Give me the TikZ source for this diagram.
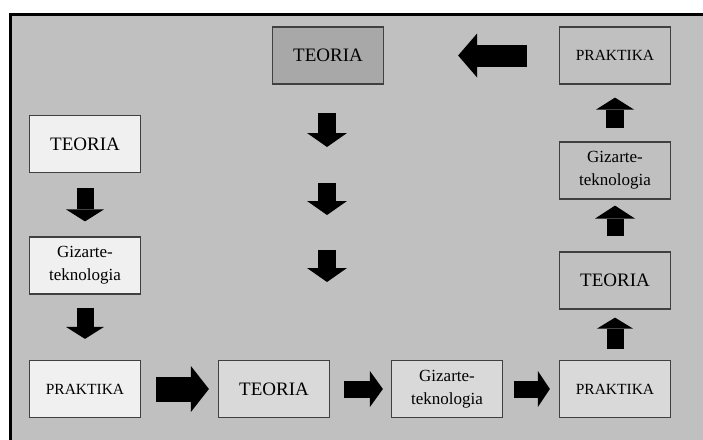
\documentclass[tikz,border=0pt]{standalone}
\usepackage{fontspec}
\setmainfont{Liberation Serif}
\usepackage{tikz}
\usetikzlibrary{arrows.meta}
\definecolor{panel}{HTML}{C0C0C0}
\definecolor{pale}{HTML}{F0F0F0}
\definecolor{mid}{HTML}{D9D9D9}
\definecolor{dark}{HTML}{A8A8A8}
\tikzset{
  box/.style={draw=black!75, line width=1.2pt, minimum width=111pt, minimum height=57pt, inner sep=0pt, align=center},
  big/.style={font=\fontsize{19}{22}\selectfont},
  small/.style={font=\fontsize{15.5}{19}\selectfont},
  two/.style={font=\fontsize{17}{23}\selectfont},
  blk/.style n args={3}{line width=#1, -{Triangle[length=#2, width=#3, line width=0pt]}}
}

\begin{document}
\begin{tikzpicture}[x=1pt, y=-1pt]
\path[use as bounding box] (0,0) rectangle (703,439);
\fill[panel] (10,14) rectangle (706,442);
\draw[line width=3pt] (10,442) -- (10,14) -- (706,14);

% left column
\node[box, big, fill=pale] (t1) at (85,144) {TEORIA};
\node[box, two, fill=pale] (g1) at (85,265.5) {Gizarte-\\teknologia};
\node[box, small, fill=pale] (p1) at (85,389) {PRAKTIKA};

% bottom row
\node[box, big, fill=mid] (t2) at (274,389) {TEORIA};
\node[box, two, fill=mid] (g2) at (447,389) {Gizarte-\\teknologia};
\node[box, small, fill=mid] (p2) at (615,389) {PRAKTIKA};

% right column
\node[box, big, fill=panel] (t3) at (615,280.5) {TEORIA};
\node[box, two, fill=panel] (g3) at (615,170.5) {Gizarte-\\teknologia};
\node[box, small, fill=panel] (p3) at (615,55.5) {PRAKTIKA};

% top
\node[box, big, fill=dark] (t4) at (328,55.5) {TEORIA};

\draw[blk={17pt}{12pt}{38pt}, shorten <=15pt, shorten >=15pt] (t1.south) -- (g1.north);
\draw[blk={17pt}{12pt}{38pt}, shorten <=13pt, shorten >=21pt] (g1.south) -- (p1.north);
\draw[blk={25pt}{18pt}{46pt}, shorten <=15pt, shorten >=9pt] (p1.east) -- (t2.west);
\draw[blk={17pt}{13pt}{36pt}, shorten <=14pt, shorten >=8pt] (t2.east) -- (g2.west);
\draw[blk={17pt}{12pt}{36pt}, shorten <=11pt, shorten >=9pt] (g2.east) -- (p2.west);
\draw[blk={17pt}{11pt}{36pt}, shorten <=10.5pt, shorten >=8pt] (p2.north) -- (t3.south);
\draw[blk={17pt}{13pt}{40pt}, shorten <=15pt, shorten >=6pt] (t3.north) -- (g3.south);
\draw[blk={18pt}{12pt}{38pt}, shorten <=13pt, shorten >=13pt] (g3.north) -- (p3.south);
\draw[blk={22pt}{19pt}{44pt}, shorten <=31.5pt, shorten >=74pt] (p3.west) -- (t4.east);

% middle column
\foreach \i/\a/\b in {1/113/147, 2/183/215, 3/250/282} {
  \coordinate (ma\i) at (327,\a);
  \coordinate (mb\i) at (327,\b);
  \draw[blk={18pt}{14pt}{40pt}] (ma\i) -- (mb\i);
}
\end{tikzpicture}
\end{document}
